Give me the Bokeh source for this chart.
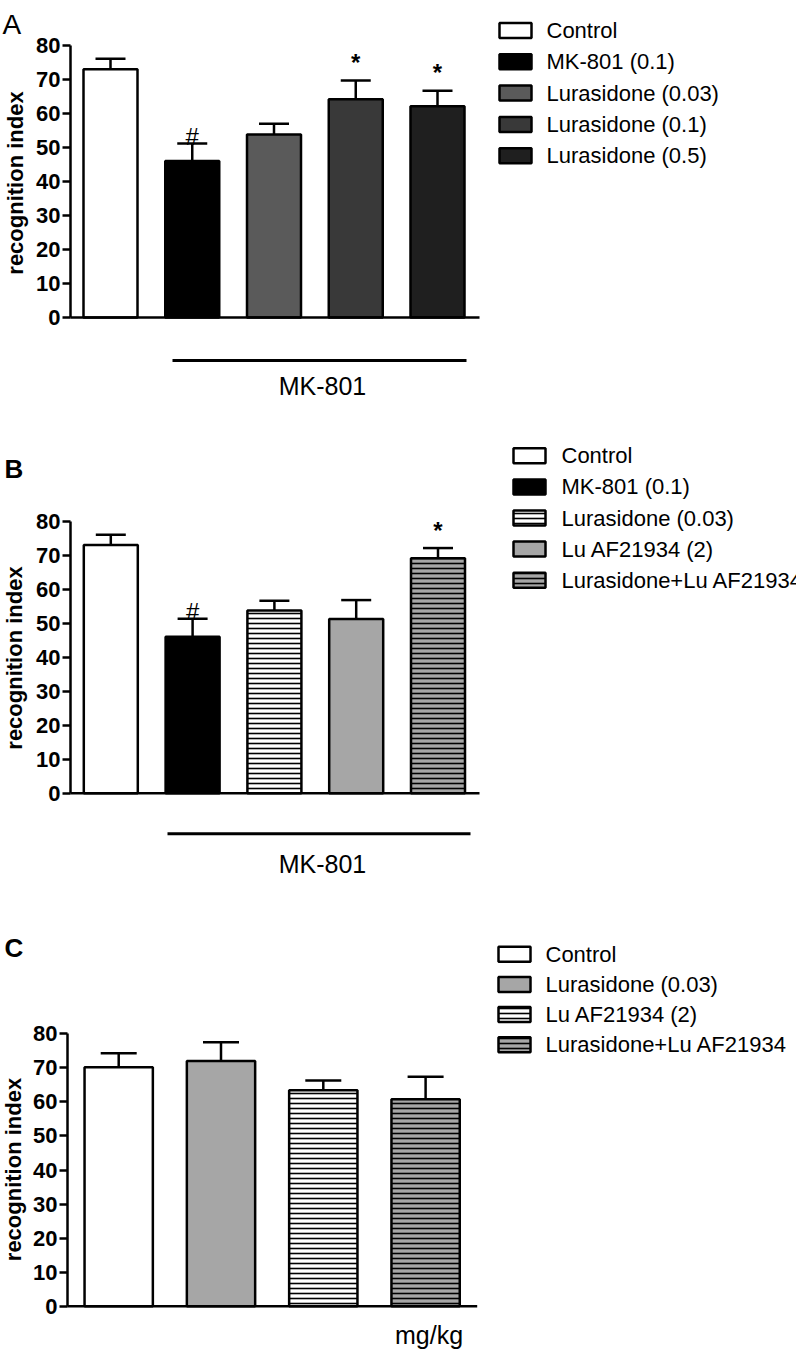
import math
from bokeh.plotting import figure
from bokeh.models import Range1d, FixedTicker, ColumnDataSource
from bokeh.layouts import column
from bokeh.core.properties import value
from bokeh.embed import file_html
from bokeh.resources import INLINE

# ---------------- data ----------------
A_groups = ["Control", "MK-801 (0.1)", "Lurasidone (0.03)", "Lurasidone (0.1)", "Lurasidone (0.5)"]
A_mean = [73.0, 46.0, 53.8, 64.2, 62.1]
A_sem = [3.1, 5.2, 3.2, 5.5, 4.6]
A_sig = ["", "#", "", "*", "*"]

B_groups = ["Control", "MK-801 (0.1)", "Lurasidone (0.03)", "Lu AF21934 (2)", "Lurasidone+Lu AF21934"]
B_mean = [73.0, 46.0, 53.7, 51.2, 69.1]
B_sem = [3.0, 5.3, 2.9, 5.6, 3.0]
B_sig = ["", "#", "", "", "*"]

C_groups = ["Control", "Lurasidone (0.03)", "Lu AF21934 (2)", "Lurasidone+Lu AF21934"]
C_mean = [70.2, 72.0, 63.4, 60.8]
C_sem = [4.1, 5.5, 2.9, 6.6]
C_sig = ["", "", "", ""]

Y_TICKS = [0, 10, 20, 30, 40, 50, 60, 70, 80]
Y_TITLE = "recognition index"

# ---------------- styles ----------------
A_fill = ["#ffffff", "#000000", "#5a5a5a", "#393939", "#1f1f1f"]
A_hatch = [" ", " ", " ", " ", " "]
B_fill = ["#ffffff", "#000000", "#ffffff", "#a6a6a6", "#a6a6a6"]
B_hatch = [" ", " ", "-", " ", "-"]
C_fill = ["#ffffff", "#a6a6a6", "#ffffff", "#a6a6a6"]
C_hatch = [" ", " ", "-", "-"]

FONT = "Liberation Sans"
W = 796
LW = 2.5

GA = dict(h=440, axis_x=70, bar0=110, step=81.75, bar_w=54, cap_w=30, y0=317, ppu=3.4, base_right=479,
          letter="A", letter_style="normal", letter_size="28px", letter_x=2, letter_base=24,
          ytitle=(14.5, 182.5), leg_cx=515, leg_row0=30, leg_dy=31.3, leg_tx=546,
          group=dict(x0=172, x1=466, y=360, tx=322, ty=385, text="MK-801"))
GB = dict(h=480, axis_x=70, bar0=110.3, step=81.8, bar_w=54, cap_w=30, y0=352.7, ppu=3.4, base_right=479,
          letter="B", letter_style="bold", letter_size="26px", letter_x=4, letter_base=28,
          ytitle=(14.2, 217.5), leg_cx=529, leg_row0=15.3, leg_dy=31.1, leg_tx=561,
          group=dict(x0=167, x1=470, y=393.3, tx=322, ty=423, text="MK-801"))
GC = dict(h=432, axis_x=67, bar0=118.2, step=102.3, bar_w=68.3, cap_w=36, y0=385.7, ppu=3.405, base_right=476.7,
          letter="C", letter_style="bold", letter_size="26px", letter_x=4, letter_base=27,
          ytitle=(12.5, 249), leg_cx=514, leg_row0=33.7, leg_dy=30.2, leg_tx=545,
          unit=dict(tx=428.5, ty=414, text="mg/kg"))

SIG_STYLE = [("#", 7, "normal", "24px"), ("*", 18, "bold", "24px")]


def txt(p, x, y, t, size, align="left", baseline="middle", style="normal", angle=0.0, y_offset=0):
    p.text(x=x, y=y, text=t, text_font=value(FONT), text_font_size=value(size),
           text_font_style=style, text_align=align, text_baseline=baseline,
           angle=angle, y_offset=y_offset, text_color="black")


def build(groups, means, sems, sigs, fills, hatches, g):
    X = lambda px: (px - g["bar0"]) / g["step"]
    Y = lambda py: (g["y0"] - py) / g["ppu"]
    p = figure(width=W, height=g["h"], output_backend="svg", toolbar_location=None,
               x_range=Range1d(X(0), X(W)), y_range=Range1d(Y(g["h"]), Y(0)),
               x_axis_type=None, min_border_left=0, min_border_right=0,
               min_border_top=0, min_border_bottom=0)
    p.outline_line_color = None
    p.grid.visible = False
    p.background_fill_color = "white"
    p.border_fill_color = "white"

    ax = p.yaxis[0]
    ax.fixed_location = X(g["axis_x"])
    ax.ticker = FixedTicker(ticks=Y_TICKS)
    ax.bounds = (Y_TICKS[0], Y_TICKS[-1])
    ax.axis_line_width = LW
    ax.axis_line_color = "black"
    ax.major_tick_line_width = LW
    ax.major_tick_line_color = "black"
    ax.major_tick_out = 8
    ax.major_tick_in = 0
    ax.minor_tick_line_color = None
    ax.major_label_standoff = 2
    ax.major_label_text_font = FONT
    ax.major_label_text_font_size = "22px"
    ax.major_label_text_font_style = "bold"
    ax.major_label_text_color = "black"

    n = len(groups)
    xs = list(range(n))
    tops = [m + s for m, s in zip(means, sems)]
    bw = g["bar_w"] / g["step"]
    cw = g["cap_w"] / g["step"]
    src = ColumnDataSource(dict(x=xs, mean=means, err=tops, fill=fills, hatch=hatches,
                                cl=[x - cw / 2 for x in xs], cr=[x + cw / 2 for x in xs]))

    # error bars (upper half only)
    p.segment(x0="x", y0="mean", x1="x", y1="err", source=src, line_width=LW, line_color="black")
    p.segment(x0="cl", y0="err", x1="cr", y1="err", source=src, line_width=LW, line_color="black")
    # bars
    p.vbar(x="x", top="mean", bottom=0, width=bw, source=src, fill_color="fill",
           hatch_pattern="hatch", hatch_color="black", hatch_scale=5, hatch_weight=1.6,
           line_color="black", line_width=LW)
    # baseline (x axis)
    p.segment(x0=[X(g["axis_x"])], y0=[0], x1=[X(g["base_right"])], y1=[0],
              line_width=LW, line_color="black")

    # significance marks
    for sym, off, style, size in SIG_STYLE:
        idx = [i for i, s in enumerate(sigs) if s == sym]
        if idx:
            txt(p, idx, [tops[i] for i in idx], [sym] * len(idx), size, align="center",
                baseline="alphabetic", style=style, y_offset=-off)

    # legend
    ly = [Y(g["leg_row0"] + i * g["leg_dy"]) for i in range(n)]
    lx = X(g["leg_cx"])
    p.rect(x=[lx] * n, y=ly, width=32, height=15, width_units="screen", height_units="screen",
           fill_color=fills, hatch_pattern=hatches, hatch_color="black", hatch_scale=5,
           hatch_weight=1.6, line_color="black", line_width=LW)
    txt(p, [X(g["leg_tx"])] * n, ly, groups, "22px")

    if "group" in g:
        gr = g["group"]
        p.segment(x0=[X(gr["x0"])], y0=[Y(gr["y"])], x1=[X(gr["x1"])], y1=[Y(gr["y"])],
                  line_width=3, line_color="black")
        txt(p, [X(gr["tx"])], [Y(gr["ty"])], [gr["text"]], "25px", align="center")
    if "unit" in g:
        u = g["unit"]
        txt(p, [X(u["tx"])], [Y(u["ty"])], [u["text"]], "25px", align="center", baseline="alphabetic")

    # panel letter and y title
    txt(p, [X(g["letter_x"])], [Y(g["letter_base"])], [g["letter"]], g["letter_size"],
        baseline="alphabetic", style=g["letter_style"])
    tx, ty = g["ytitle"]
    txt(p, [X(tx)], [Y(ty)], [Y_TITLE], "22px", align="center", style="bold", angle=math.pi / 2)
    return p


pA = build(A_groups, A_mean, A_sem, A_sig, A_fill, A_hatch, GA)
pB = build(B_groups, B_mean, B_sem, B_sig, B_fill, B_hatch, GB)
pC = build(C_groups, C_mean, C_sem, C_sig, C_fill, C_hatch, GC)

layout = column(pA, pB, pC, spacing=0)
open("out.html", "w").write(file_html(layout, INLINE))
